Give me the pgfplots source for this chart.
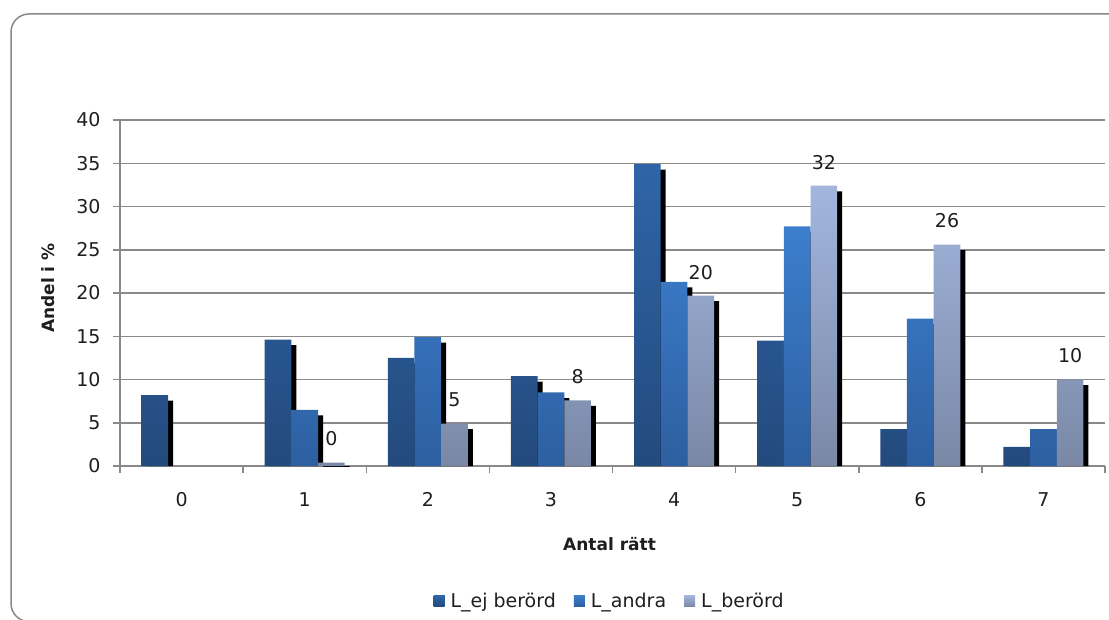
\documentclass[border=0pt]{standalone}
\usepackage{pgfplots}
\usepackage{pgfplotstable}
\pgfplotsset{compat=1.18}
\usepackage{fontspec}
\setmainfont{DejaVu Sans}
\definecolor{gridgray}{RGB}{137,137,137}
\definecolor{ejTop}{RGB}{47,101,168}
\definecolor{ejBot}{RGB}{35,74,125}
\definecolor{anTop}{RGB}{60,126,205}
\definecolor{anBot}{RGB}{45,95,160}
\definecolor{beTop}{RGB}{162,182,222}
\definecolor{beBot}{RGB}{122,136,166}
\definecolor{ejLeg}{RGB}{42,88,145}
\definecolor{anLeg}{RGB}{52,106,176}
\definecolor{beLeg}{RGB}{140,155,190}
\definecolor{txt}{RGB}{30,30,30}
\pgfplotstableread{
x v
0 8.2
1 14.6
2 12.5
3 10.4
4 34.9
5 14.5
6 4.25
7 2.2
}\ejdata
\pgfplotstableread{
x v
1 6.5
2 14.9
3 8.5
4 21.3
5 27.7
6 17.05
7 4.25
}\andata
\pgfplotstableread{
x v
1 0.4
2 4.9
3 7.6
4 19.7
5 32.4
6 25.6
7 10.0
}\bedata
\begin{document}
\begin{tikzpicture}[x=1pt,y=1pt]
\useasboundingbox (0,0) rectangle (1109,619);
\draw[gridgray, line width=1.5pt, rounded corners=18pt] (11,-2.5) rectangle (1140,605);
\begin{axis}[
  at={(120pt,153pt)}, anchor=south west,
  scale only axis, width=985pt, height=346pt,
  ybar=0pt, bar width=26.7pt,
  xmin=-0.5, xmax=7.5, ymin=0, ymax=40,
  xtick={0,...,7},
  minor xtick={-0.5,0.5,...,7.5},
  ytick={0,5,...,40},
  axis x line*=bottom, axis y line*=left,
  axis line style={-, gridgray, line width=1.5pt},
  tick align=outside,
  major tick length=7pt, minor tick length=7pt,
  tick style={gridgray, line width=1.5pt},
  every major x tick/.append style={draw=none},
  ymajorgrids,
  major grid style={gridgray, line width=1.5pt},
  /pgf/number format/assume math mode=true,
  ticklabel style={font=\fontsize{19}{22}\selectfont, text=txt},
  yticklabel style={xshift=-9pt},
  xticklabel style={yshift=-16pt},
  xlabel={Antal rätt},
  ylabel={Andel i \%},
  every axis x label/.style={at={(axis description cs:0.497,-0.225)}, anchor=center, font=\fontsize{17}{20}\selectfont\bfseries, text=txt},
  every axis y label/.style={at={(axis description cs:-0.0731,0.514)}, anchor=center, rotate=90, font=\fontsize{17}{20}\selectfont\bfseries, text=txt},
  legend style={at={(0.497,-0.39)}, anchor=center, draw=none, fill=none,
    legend columns=3, font=\fontsize{19}{22}\selectfont, text=txt,
    /tikz/every odd column/.append style={column sep=4pt},
    /tikz/every even column/.append style={column sep=16pt}},
]
% shadow of L_ej beroerd
\addplot[draw=none, fill=black, bar shift=-21.7pt, forget plot]
  table[x=x, y expr=\thisrow{v}-0.64] {\ejdata};
\addplot[draw=none, top color=ejTop, bottom color=ejBot, bar shift=-26.7pt,
  legend image code/.code={\fill[ejLeg] (0pt,-5.5pt) rectangle (11pt,5.5pt);}]
  table[x=x, y=v] {\ejdata};
\addlegendentry{L\_ej berörd}
% shadow of L_andra
\addplot[draw=none, fill=black, bar shift=5pt, forget plot]
  table[x=x, y expr=\thisrow{v}-0.64] {\andata};
\addplot[draw=none, top color=anTop, bottom color=anBot, bar shift=0pt,
  legend image code/.code={\fill[anLeg] (0pt,-5.5pt) rectangle (11pt,5.5pt);}]
  table[x=x, y=v] {\andata};
\addlegendentry{L\_andra}
% shadow of L_beroerd
\addplot[draw=none, fill=black, bar shift=31.7pt, forget plot]
  table[x=x, y expr=\thisrow{v}-0.64] {\bedata};
\addplot[draw=none, top color=beTop, bottom color=beBot, bar shift=26.7pt,
  legend image code/.code={\fill[beLeg] (0pt,-5.5pt) rectangle (11pt,5.5pt);},
  nodes near coords={\pgfmathprintnumber[fixed,precision=0]{\pgfplotspointmeta}},
  every node near coord/.append style={anchor=center, yshift=23.5pt, font=\fontsize{19}{22}\selectfont, text=txt}]
  table[x=x, y=v] {\bedata};
\addlegendentry{L\_berörd}
\end{axis}
\end{tikzpicture}
\end{document}
